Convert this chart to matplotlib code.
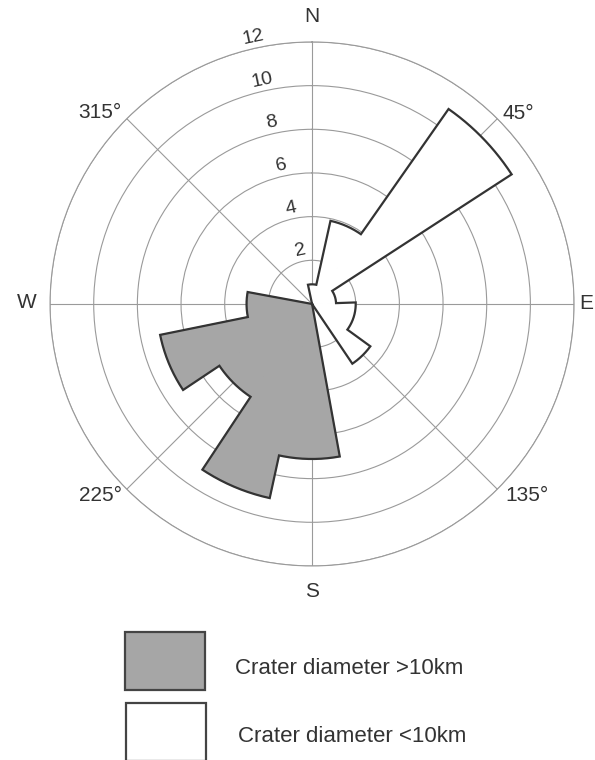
import numpy as np
import matplotlib
matplotlib.use('Agg')
import matplotlib.pyplot as plt
from matplotlib.patches import Rectangle

plt.rcParams['font.family'] = ['Liberation Sans', 'DejaVu Sans']

# bearing of the sector edges (degrees clockwise from N) and sector lengths
large_edges = [169.7, 192.3, 213.5, 236.3, 258.5, 280.5]
large_counts = [7.1, 9.1, 5.1, 7.1, 3.0]

small_edges = [-12.0, 12.5, 35.0, 57.0, 88.0, 126.0, 146.0]
small_counts = [0.9, 3.9, 10.9, 1.1, 2.0, 3.3]

rings = [2, 4, 6, 8, 10, 12]
spokes = [0, 45, 90, 135, 180, 225, 270, 315]
spoke_labels = ['N', '45°', 'E', '135°', 'S', '225°', 'W', '315°']

legend_labels = ['Crater diameter >10km', 'Crater diameter <10km']

GRID = '#9a9a9a'
EDGE = '#333333'
GREY = '#a6a6a6'
TXT = '#333333'


def rose_outline(edges, counts, n=40):
    th = [edges[0]]
    r = [0.0]
    for i, c in enumerate(counts):
        t = np.linspace(edges[i], edges[i + 1], n)
        th.extend(t)
        r.extend([c] * n)
    th.append(edges[-1])
    r.append(0.0)
    return np.radians(th), np.array(r)


def draw_rose(ax, edges, counts, fill):
    edges = np.array(edges)
    # edge in the fill colour hides the seams between neighbouring wedges
    ax.bar(np.radians(edges[:-1]), counts, width=np.radians(np.diff(edges)),
           bottom=0, align='edge', color=fill, edgecolor=fill, lw=0.8,
           zorder=2)
    th, r = rose_outline(edges, counts)
    ax.plot(th, r, color=EDGE, lw=1.6, solid_joinstyle='miter', zorder=3)


fig = plt.figure(figsize=(5.95, 7.6), dpi=100)
ax = fig.add_axes([0.0841, 0.2553, 0.8807, 0.6895], projection='polar')
ax.set_theta_zero_location('N')
ax.set_theta_direction(-1)
ax.set_ylim(0, 12)
ax.set_axisbelow(True)

ax.set_rgrids(rings, labels=[''] * len(rings))
ax.set_thetagrids(spokes, labels=[''] * len(spokes))
ax.grid(True, color=GRID, lw=0.8)
ax.spines['polar'].set_color(GRID)
ax.spines['polar'].set_linewidth(0.8)
ax.tick_params(length=0)

draw_rose(ax, large_edges, large_counts, GREY)
draw_rose(ax, small_edges, small_counts, 'white')

# ring values along a line just west of north
for v in rings:
    ax.text(np.radians(-12.5), v + 0.5, str(v), ha='center', va='center',
            rotation=12, fontsize=14, color=TXT)

# compass and bearing labels around the outer ring
offsets = {
    'N': ((0, 18), 'center'),
    '45°': ((4, 3.5), 'left'),
    'E': ((3.5, 0), 'left'),
    '135°': ((5.5, -4.5), 'left'),
    'S': ((0, -18.5), 'center'),
    '225°': ((-3.5, -4.5), 'right'),
    'W': ((-16.5, 1), 'center'),
    '315°': ((-3.5, 4.5), 'right'),
}
for ang, lab in zip(spokes, spoke_labels):
    (dx, dy), ha = offsets[lab]
    ax.annotate(lab, xy=(np.radians(ang), 12), xytext=(dx, dy),
                textcoords='offset points', ha=ha, va='center',
                fontsize=15, color=TXT, annotation_clip=False)

# legend boxes
W, H = 595.0, 760.0
boxes = [(125, 632, GREY), (126, 703, 'white')]
text_pos = [(235, 668), (238, 737)]
for (x, y, fc), (tx, ty), lab in zip(boxes, text_pos, legend_labels):
    fig.add_artist(Rectangle((x / W, 1 - (y + 58) / H), 80 / W, 58 / H,
                             transform=fig.transFigure, facecolor=fc,
                             edgecolor='#444444', lw=1.6))
    fig.text(tx / W, 1 - ty / H, lab, ha='left', va='center',
             fontsize=16, color=TXT)

fig.savefig('out.png', dpi=100)
